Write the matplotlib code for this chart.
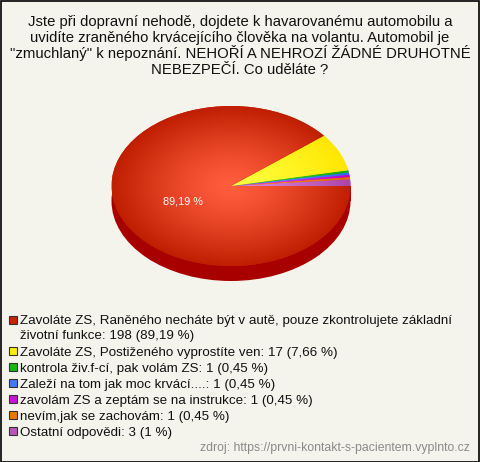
import numpy as np
import matplotlib
matplotlib.use("Agg")
import matplotlib.pyplot as plt
from matplotlib.patches import Rectangle, Ellipse
from matplotlib.colors import to_rgb

plt.rcParams['font.family'] = ['Liberation Sans', 'DejaVu Sans']

title_lines = [
    "Jste při dopravní nehodě, dojdete k havarovanému automobilu a",
    "uvidíte zraněného krvácejícího člověka na volantu. Automobil je",
    "\"zmuchlaný\" k nepoznání. NEHOŘÍ A NEHROZÍ ŽÁDNÉ DRUHOTNÉ",
    "NEBEZPEČÍ. Co uděláte ?",
]

categories = [
    "Zavoláte ZS, Raněného necháte být v autě, pouze zkontrolujete základní\nživotní funkce",
    "Zavoláte ZS, Postiženého vyprostíte ven",
    "kontrola živ.f-cí, pak volám ZS",
    "Zaleží na tom jak moc krvácí....",
    "zavolám ZS a zeptám se na instrukce",
    "nevím,jak se zachovám",
    "Ostatní odpovědi",
]
counts = [198, 17, 1, 1, 1, 1, 3]
pct_labels = ["89,19 %", "7,66 %", "0,45 %", "0,45 %", "0,45 %", "0,45 %", "1 %"]
colors = ["#cc2200", "#ffee00", "#11bb11", "#4477ff", "#cc11dd", "#ee7700", "#bb55bb"]
light_colors = ["#ff5d3e", "#ffff40", "#33dd33", "#6699ff", "#ee44ff", "#ff9922", "#dd88dd"]
edge_colors = ["#c01e00", "#ffe600", "#11aa11", "#3366ee", "#bb00cc", "#dd6600", "#aa44aa"]
side_color = "#a80000"

W, H = 480, 462
fig = plt.figure(figsize=(W / 100, H / 100), dpi=100)
bg = "#f4f4ec"
fig.patch.set_facecolor(bg)


def fy(ypx):
    return 1 - ypx / H


# pie geometry (pixels)
cx, cy = 231, H - 186
rx, ry = 119.5, 80
depth = 15 / ry
pw, ph = 135, 110
ax = fig.add_axes([(cx - pw) / W, (cy - ph) / H, 2 * pw / W, 2 * ph / H])
ax.set_facecolor("none")

# side (3D depth)
ax.add_patch(Ellipse((0, -depth), 2, 2, facecolor=side_color, edgecolor="none", zorder=1))
ax.add_patch(Rectangle((-1, -depth), 2, depth, facecolor=side_color, edgecolor="none", zorder=1))

vals = counts[::-1]
wedges, _ = ax.pie(vals, colors=colors[::-1], startangle=0, counterclock=True,
                   radius=1, frame=True, wedgeprops=dict(linewidth=0, zorder=2))

# radial gradients clipped to wedges
n = 400
xs = np.linspace(-1, 1, n)
X, Y = np.meshgrid(xs, xs[::-1])
R = np.clip(np.sqrt(X ** 2 + Y ** 2), 0, 1)
t = R ** 1.3
for w, lc, ec in zip(wedges, light_colors[::-1], edge_colors[::-1]):
    a = np.array(to_rgb(lc))
    b = np.array(to_rgb(ec))
    img = a[None, None, :] * (1 - t[..., None]) + b[None, None, :] * t[..., None]
    im = ax.imshow(img, extent=(-1, 1, -1, 1), zorder=3, interpolation="bilinear")
    im.set_clip_path(w)

# label of the main slice
ax.text(-0.40, -0.2, pct_labels[0], color="white", fontsize=7.8, ha="center",
        va="center", zorder=5)

ax.set_xlim(-pw / rx, pw / rx)
ax.set_ylim(-ph / ry, ph / ry)
ax.set_aspect("auto")
ax.axis("off")

# title (baselines in px)
tfs = 10.7
for i, line in enumerate(title_lines):
    fig.text(240 / W, fy(26.3 + 16 * i), line, ha="center", va="baseline",
             fontsize=tfs, color="#111111")

# legend
fs = 9.6
cap = 0.716 * fs * 100 / 72
row_centers = [319.5, 351, 367, 383, 399, 415, 431]
for lab, cnt, pl, col, yc in zip(categories, counts, pct_labels, colors, row_centers):
    fig.patches.append(Rectangle((8.5 / W, fy(yc + 4)), 8 / W, 8 / H,
                                 transform=fig.transFigure, facecolor=col,
                                 edgecolor="#333333", linewidth=0.8))
    txt = f"{lab}: {cnt} ({pl})"
    for j, ln in enumerate(txt.split("\n")):
        fig.text(20 / W, fy(yc + cap / 2 + 14.5 * j), ln, ha="left", va="baseline",
                 fontsize=fs, color="#111111")

fig.text(470 / W, fy(447 + 0.716 * 8.8 * 100 / 72 / 2),
         "zdroj: https://prvni-kontakt-s-pacientem.vyplnto.cz",
         ha="right", va="baseline", fontsize=8.8, color="#8a8a8a")

fig.patches.append(Rectangle((0.5 / W, 0.5 / H), 1 - 1.5 / W, 1 - 1.5 / H,
                             transform=fig.transFigure, facecolor="none",
                             edgecolor="black", linewidth=1.2))

fig.savefig("out.png", dpi=100, facecolor=bg)
